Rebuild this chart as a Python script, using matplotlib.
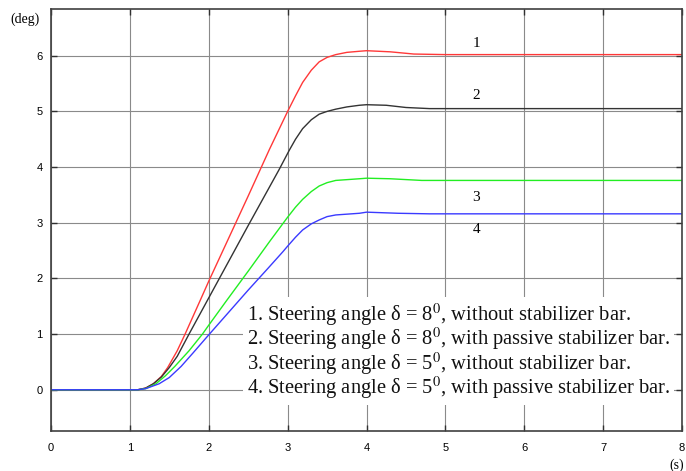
import matplotlib
matplotlib.use('Agg')
import matplotlib.pyplot as plt

plt.rcParams['mathtext.fontset'] = 'stix'

# curve 1: delta = 8 deg, without stabilizer bar
x1 = [0, 1.1, 1.2, 1.3, 1.4, 1.48, 1.6, 1.7, 1.89, 2.0, 2.5, 2.77, 3.0, 3.1, 3.19, 3.3, 3.4, 3.5,
      3.61, 3.75, 3.91, 4.0, 4.3, 4.6, 5.0, 8.0]
y1 = [0, 0, 0.03, 0.11, 0.24, 0.40, 0.7, 1.0, 1.6, 1.95, 3.48, 4.32, 5.0, 5.28, 5.52, 5.74, 5.89, 5.97,
      6.02, 6.06, 6.08, 6.09, 6.07, 6.03, 6.02, 6.02]

# curve 2: delta = 8 deg, with passive stabilizer bar
x2 = [0, 1.1, 1.2, 1.3, 1.4, 1.5, 1.6, 1.75, 2.0, 2.5, 2.89, 3.02, 3.1, 3.19, 3.3, 3.4, 3.5, 3.61,
      3.75, 3.91, 4.0, 4.25, 4.5, 4.8, 8.0]
y2 = [0, 0, 0.03, 0.11, 0.23, 0.40, 0.6, 1.0, 1.65, 2.95, 3.95, 4.3, 4.5, 4.69, 4.85, 4.95, 5.0, 5.04,
      5.08, 5.11, 5.12, 5.11, 5.07, 5.05, 5.05]

# curve 3: delta = 5 deg, without stabilizer bar
x3 = [0, 1.1, 1.2, 1.33, 1.45, 1.57, 1.75, 1.92, 2.0, 2.22, 2.5, 2.77, 3.0, 3.1, 3.19, 3.3, 3.4, 3.5,
      3.61, 3.91, 4.0, 4.3, 4.7, 8.0]
y3 = [0, 0, 0.02, 0.107, 0.25, 0.42, 0.7, 1.0, 1.16, 1.59, 2.13, 2.66, 3.1, 3.28, 3.42, 3.56, 3.66, 3.72,
      3.76, 3.79, 3.8, 3.79, 3.76, 3.76]

# curve 4: delta = 5 deg, with passive stabilizer bar
x4 = [0, 1.1, 1.2, 1.37, 1.5, 1.65, 1.8, 1.99, 2.27, 2.5, 2.75, 2.94, 3.0, 3.1, 3.19, 3.3, 3.4, 3.5,
      3.61, 3.91, 4.0, 4.4, 4.8, 8.0]
y4 = [0, 0, 0.02, 0.107, 0.22, 0.42, 0.66, 0.97, 1.42, 1.79, 2.18, 2.48, 2.58, 2.74, 2.87, 2.98, 3.05, 3.11,
      3.14, 3.17, 3.19, 3.17, 3.16, 3.16]

curve_labels = ['1', '2', '3', '4']
label_x = [5.39, 5.39, 5.39, 5.39]
label_y = [6.22, 5.29, 3.46, 2.87]

legend_lines = [
    r'1. Steering angle δ = 8$^0$, without stabilizer bar.',
    r'2. Steering angle δ = 8$^0$, with passive stabilizer bar.',
    r'3. Steering angle δ = 5$^0$, without stabilizer bar.',
    r'4. Steering angle δ = 5$^0$, with passive stabilizer bar.',
]
legend_y = [1.35, 0.915, 0.47, 0.036]

fig = plt.figure(figsize=(6.86, 4.71), dpi=100)
ax = fig.add_axes([0.0743, 0.085, 0.92, 0.896])

ax.plot(x1, y1, color='#ff3838', lw=1.0)
ax.plot(x2, y2, color='#333333', lw=1.0)
ax.plot(x3, y3, color='#22ee22', lw=1.0)
ax.plot(x4, y4, color='#3a3aff', lw=1.0)

for t, lx, ly in zip(curve_labels, label_x, label_y):
    ax.text(lx, ly, t, family='Liberation Serif', fontsize=11, ha='center', va='center')

# white patch behind the legend text (invisible copies with a bbox), then the text itself
for s, ly in zip(legend_lines, legend_y):
    ax.text(2.48, ly, s, family='Liberation Serif', fontsize=14.8, ha='left', va='center',
            color='none', zorder=4, bbox=dict(facecolor='white', edgecolor='none', pad=3))
for s, ly in zip(legend_lines, legend_y):
    ax.text(2.48, ly, s, family='Liberation Serif', fontsize=14.8, ha='left', va='center',
            color='#111111', zorder=5)

ax.set_xlim(0, 8)
ax.set_ylim(-0.74, 6.84)
ax.set_xticks(range(0, 9))
ax.set_yticks(range(0, 7))
ax.grid(True, color='#8a8a8a', lw=0.8)
ax.set_axisbelow(True)
ax.tick_params(direction='in', top=True, right=True, length=4, width=1, color='#303030',
               labelsize=8)
ax.tick_params(axis='x', pad=9)
ax.tick_params(axis='y', pad=6)
for lab in ax.get_xticklabels() + ax.get_yticklabels():
    lab.set_family('Liberation Sans')
for s in ax.spines.values():
    s.set_color('#404040')
    s.set_linewidth(1.2)

fig.text(0.037, 0.959, '(deg)', family='Liberation Serif', fontsize=10, ha='center', va='center')
fig.text(0.986, 0.013, '(s)', family='Liberation Serif', fontsize=10, ha='center', va='center')

fig.savefig('out.png', dpi=100)
